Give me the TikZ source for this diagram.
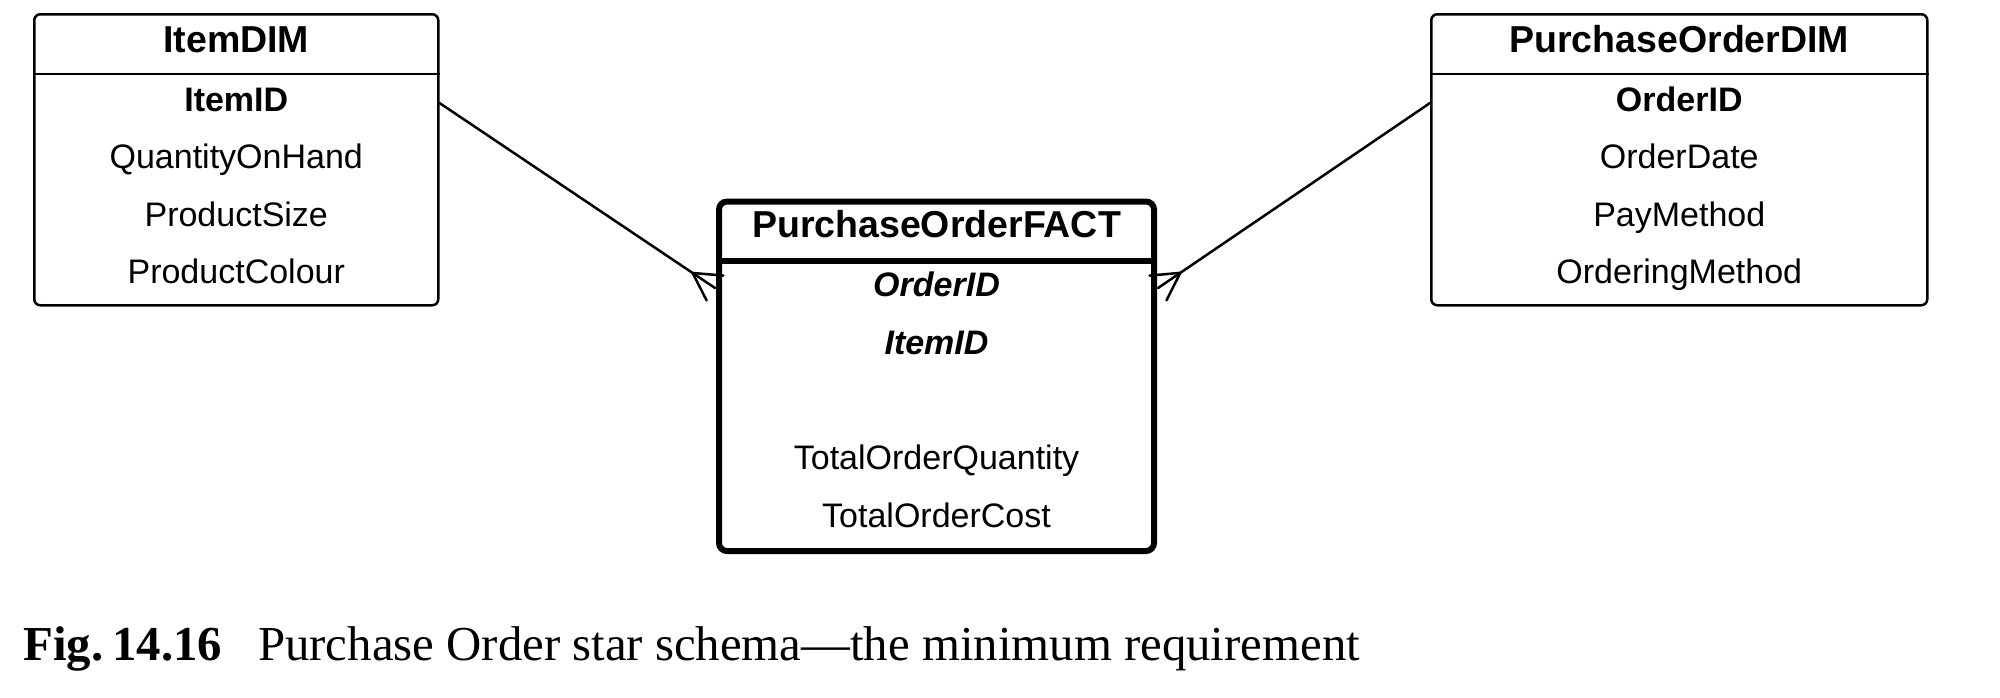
\documentclass[tikz,border=0pt]{standalone}
\usepackage{fontspec}
\setmainfont{Liberation Sans}
\newfontfamily\capfont[Ligatures=TeX]{Liberation Serif}
\usetikzlibrary{calc}
\begin{document}
\begin{tikzpicture}[x=0.5pt,y=-0.5pt,
  entity/.style={draw=black, line width=1.25pt, rounded corners=3pt, inner sep=0pt, anchor=north west},
  factbox/.style={entity, line width=3pt, rounded corners=4pt},
  ttl/.style={font=\fontsize{18.75}{20}\selectfont\bfseries, inner sep=0pt, anchor=base},
  row/.style={font=\fontsize{17}{20}\selectfont, inner sep=0pt, anchor=base},
  keyrow/.style={row, font=\fontsize{17}{20}\selectfont\bfseries},
  fkrow/.style={row, font=\fontsize{17}{20}\selectfont\bfseries\itshape},
  thinsep/.style={line width=1.25pt},
  thicksep/.style={line width=3pt},
  conn/.style={line width=1.25pt, line cap=round}]
\fill[white] (0,0) rectangle (2000,697);
\useasboundingbox (0,0) rectangle (2000,697);

% ItemDIM
\node[entity, minimum width=202pt, minimum height=145.5pt] (item) at (33,13) {};
\draw[thinsep] ($(item.north west)+(0,61)$) -- ($(item.north east)+(0,61)$);
\node[ttl] (itemT) at ($(item.north)+(0,39)$) {ItemDIM};
\node[keyrow] (itemR1) at ($(item.north)+(0,98)$) {ItemID};
\node[row] (itemR2) at ($(item.north)+(0,155)$) {QuantityOnHand};
\node[row] (itemR3) at ($(item.north)+(0,213)$) {ProductSize};
\node[row] (itemR4) at ($(item.north)+(0,270)$) {ProductColour};

% PurchaseOrderDIM
\node[entity, minimum width=248pt, minimum height=145.5pt] (po) at (1430,13) {};
\draw[thinsep] ($(po.north west)+(0,61)$) -- ($(po.north east)+(0,61)$);
\node[ttl] (poT) at ($(po.north)+(0,39)$) {PurchaseOrderDIM};
\node[keyrow] (poR1) at ($(po.north)+(0,98)$) {OrderID};
\node[row] (poR2) at ($(po.north)+(0,155)$) {OrderDate};
\node[row] (poR3) at ($(po.north)+(0,213)$) {PayMethod};
\node[row] (poR4) at ($(po.north)+(0,270)$) {OrderingMethod};

% PurchaseOrderFACT
\node[factbox, minimum width=217.5pt, minimum height=174.75pt] (fact) at (716,198.5) {};
\draw[thicksep] ($(fact.north west)+(0,62.5)$) -- ($(fact.north east)+(0,62.5)$);
\node[ttl] (factT) at ($(fact.north)+(0,38.5)$) {PurchaseOrderFACT};
\node[fkrow] (factR1) at ($(fact.north)+(0,97.5)$) {OrderID};
\node[fkrow] (factR2) at ($(fact.north)+(0,155.5)$) {ItemID};
\node[row] (factR3) at ($(fact.north)+(0,270.5)$) {TotalOrderQuantity};
\node[row] (factR4) at ($(fact.north)+(0,328.5)$) {TotalOrderCost};

% connector ItemDIM -> fact (many end at fact)
\coordinate (iS) at ($(item.north east)+(0,90)$);
\coordinate (iE) at ($(fact.north west)+(-1,89.5)$);
\coordinate (iP) at ($(iE)!13.5pt!(iS)$);
\coordinate (iA) at ($(iE)!7.5pt!90:(iS)$);
\coordinate (iB) at ($(iE)!7.5pt!-90:(iS)$);
\draw[conn] (iS) -- (iE);
\draw[conn] (iP) -- (iA);
\draw[conn] (iP) -- (iB);

% connector PurchaseOrderDIM -> fact
\coordinate (pS) at ($(po.north west)+(0,90)$);
\coordinate (pE) at ($(fact.north east)+(1,89.5)$);
\coordinate (pP) at ($(pE)!13.5pt!(pS)$);
\coordinate (pA) at ($(pE)!7.5pt!90:(pS)$);
\coordinate (pB) at ($(pE)!7.5pt!-90:(pS)$);
\draw[conn] (pS) -- (pE);
\draw[conn] (pP) -- (pA);
\draw[conn] (pP) -- (pB);

% caption
\node[anchor=base west, inner sep=0pt, font=\capfont\fontsize{24.4}{28}\selectfont] (cap) at (23,660)
  {\textbf{Fig.\hspace{4.5pt}14.16}\hspace{18pt}Purchase Order star schema\textemdash the minimum requirement};
\end{tikzpicture}
\end{document}
